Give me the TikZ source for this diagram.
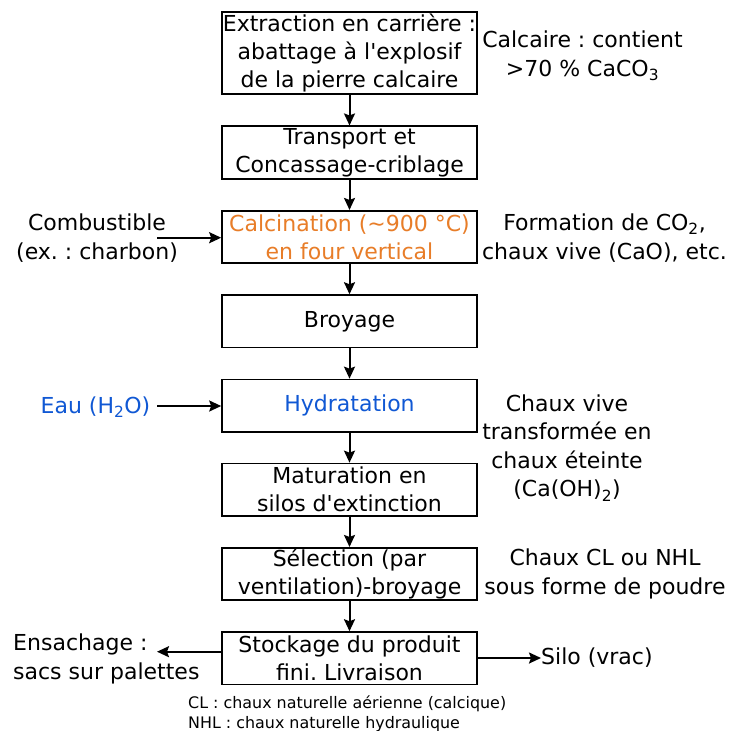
\documentclass[tikz,border=0pt]{standalone}
\usepackage{fontspec}
\setmainfont{DejaVu Sans}
\usetikzlibrary{arrows.meta}
\definecolor{calcorange}{RGB}{232,125,40}
\definecolor{hydblue}{RGB}{16,88,212}
\newcommand{\sbs}[1]{\textsubscript{#1}}
\frenchspacing
\begin{document}
\begin{tikzpicture}[x=1pt,y=-1pt,
  stepbox/.style={draw=black,line width=1.6pt,minimum width=255pt,minimum height=52.5pt,inner sep=0pt,align=center,font=\frenchspacing\fontsize{22}{28}\selectfont},
  sidetext/.style={align=center,inner sep=0pt,font=\frenchspacing\fontsize{22}{28.5}\selectfont},
  flow/.style={line width=2pt,-{Stealth[length=12pt,width=11pt,inset=2pt]}}]
\useasboundingbox (0,0) rectangle (729,731);
\fill[white] (0,0) rectangle (729,731);
% boxes
\node[stepbox,minimum height=82pt] (b1) at (349.5,53) {Extraction en carrière :\\abattage à l\textquotesingle explosif\\de la pierre calcaire};
\node[stepbox] (b2) at (349.5,152.5) {Transport et\\Concassage-criblage};
\node[stepbox,text=calcorange] (b3) at (349.5,237) {Calcination (\textasciitilde900 °C)\\en four vertical};
\node[stepbox] (b4) at (349.5,321.3) {Broyage};
\node[stepbox,text=hydblue] (b5) at (349.5,405.7) {Hydratation};
\node[stepbox] (b6) at (349.5,489.7) {Maturation en\\silos d\textquotesingle extinction};
\node[stepbox] (b7) at (349.5,574) {Sélection (par\\ventilation)-broyage};
\node[stepbox] (b8) at (349.5,658.3) {Stockage du produit\\fini. Livraison};
% side texts
\node[sidetext] (calc) at (582.5,56) {Calcaire : contient\\>70 \% CaCO\sbs{3}};
\node[sidetext] (form) at (604.5,238) {Formation de CO\sbs{2},\\chaux vive (CaO), etc.};
\node[sidetext] (comb) at (97,238) {Combustible\\(ex. : charbon)};
\node[sidetext,text=hydblue] (eau) at (95.5,407) {Eau (H\sbs{2}O)};
\node[sidetext] (vive) at (567,448) {Chaux vive\\transformée en\\chaux éteinte\\(Ca(OH)\sbs{2})};
\node[sidetext] (clnhl) at (605,574) {Chaux CL ou NHL\\sous forme de poudre};
\node[sidetext,align=left,anchor=west] (ens) at (13,659) {Ensachage :\\sacs sur palettes};
\node[sidetext,anchor=west] (silo) at (541,658) {Silo (vrac)};
\node[align=left,anchor=north west,inner sep=0pt,font=\frenchspacing\fontsize{15.9}{19.5}\selectfont] (note) at (188,696) {CL : chaux naturelle aérienne (calcique)\\NHL : chaux naturelle hydraulique};
% coordinates
\coordinate (combend) at (157,237.7);
\coordinate (eauend) at (157,406);
\coordinate (ensend) at (157,651.7);
% connectors
\draw[flow] (b1) -- (b2);
\draw[flow] (b2) -- (b3);
\draw[flow] (b3) -- (b4);
\draw[flow] (b4) -- (b5);
\draw[flow] (b5) -- (b6);
\draw[flow] (b6) -- (b7);
\draw[flow] (b7) -- (b8);
\draw[flow] (combend) -- (combend -| b3.west);
\draw[flow] (eauend) -- (eauend -| b5.west);
\draw[flow] (ensend -| b8.west) -- (ensend);
\draw[flow] (b8.east |- silo.west) -- (silo.west);
\end{tikzpicture}
\end{document}
